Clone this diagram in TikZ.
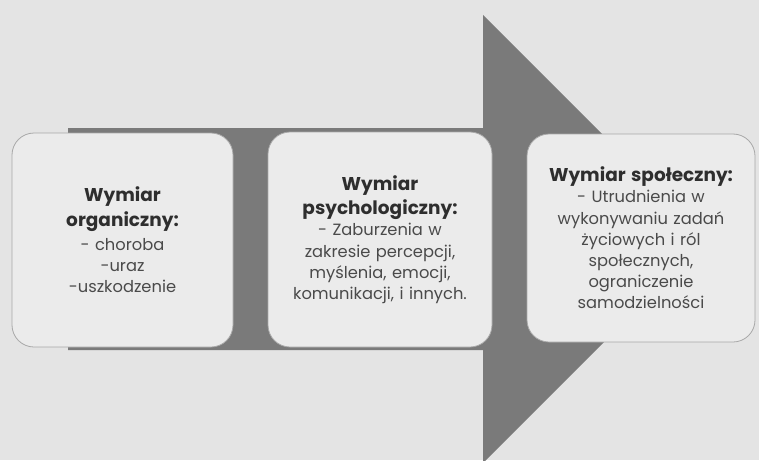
\documentclass[tikz,border=0pt]{standalone}
\usepackage{fontspec}
\setmainfont{Poppins}
\newcommand{\ttlfont}{\fontsize{18.5}{24.5}\selectfont\bfseries\color{titletext}}
\begin{document}
\begin{tikzpicture}[x=1pt,y=-1pt,
  box/.style={draw=boxline, line width=0.8pt, fill=boxfill, rounded corners=22pt,
    align=center, inner sep=0pt, font=\fontsize{16.3}{21.2}\selectfont, text=bodytext}]
\definecolor{bg}{HTML}{E4E4E4}
\definecolor{arrowc}{HTML}{7A7A7A}
\definecolor{boxfill}{HTML}{EBEBEB}
\definecolor{boxline}{HTML}{A8A8A8}
\definecolor{bodytext}{HTML}{4A4A4A}
\definecolor{titletext}{HTML}{2E2E2E}
\fill[bg] (0,0) rectangle (759,460);
\useasboundingbox (0,0) rectangle (759,460);
\begin{scope}
\clip (0,0) rectangle (759,460);
\fill[arrowc] (68,128) -- (483,128) -- (483,15) -- (707,239) -- (483,463) -- (483,350) -- (68,350) -- cycle;
\end{scope}
\node[box, minimum width=221pt, minimum height=214pt, text width=214pt] (org) at (122.5,240)
  {{\ttlfont Wymiar\\organiczny:\par}\vspace{3pt}- choroba\\-uraz\\-uszkodzenie};
\node[box, minimum width=224pt, minimum height=215pt, text width=218pt] (psy) at (380,239.5)
  {{\ttlfont Wymiar\\psychologiczny:\par}- Zaburzenia w\\zakresie percepcji,\\myślenia, emocji,\\komunikacji, i innych.};
\node[box, minimum width=228pt, minimum height=208pt, text width=222pt] (spo) at (641,238)
  {{\ttlfont Wymiar społeczny:\par}- Utrudnienia w\\wykonywaniu zadań\\życiowych i ról\\społecznych,\\ograniczenie\\samodzielności};
\end{tikzpicture}
\end{document}
